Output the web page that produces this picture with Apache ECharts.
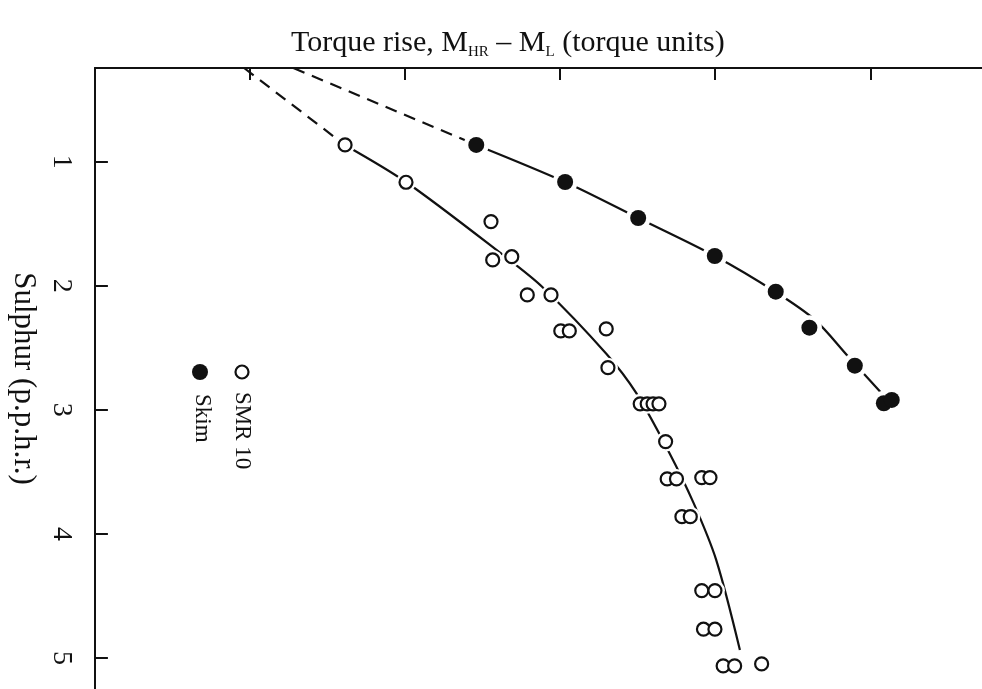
<!DOCTYPE html>
<html><head><meta charset="utf-8">
<script src="https://cdn.jsdelivr.net/npm/echarts@6/dist/echarts.min.js"></script>
<style>html,body{margin:0;padding:0;background:#fff}#c{width:982px;height:689px}</style>
</head><body><div id="c"></div><script>
const FONT = "'Liberation Serif', 'Times New Roman', serif";
// tick values
const xTicks = [1, 2, 3, 4, 5];
const yTicks = [1, 2, 3, 4, 5];
// SMR 10 (open circles): torque rise, sulphur
const smrX = [1.613, 2.006, 2.554, 2.565, 2.688, 2.788, 2.941, 3.004, 3.059, 3.297, 3.308, 3.516, 3.561, 3.599, 3.637, 3.680, 3.690, 3.750, 3.913, 3.966, 3.785, 3.839, 3.913, 3.998, 3.924, 3.998, 4.051, 4.125, 4.299];
const smrY = [0.865, 1.166, 1.483, 1.792, 1.766, 2.074, 2.074, 2.364, 2.364, 2.348, 2.660, 2.952, 2.952, 2.952, 2.952, 3.256, 3.557, 3.557, 3.546, 3.546, 3.861, 3.861, 4.457, 4.457, 4.768, 4.768, 5.064, 5.064, 5.048];
// Skim (filled circles)
const skimX = [2.459, 3.032, 3.503, 3.997, 4.390, 4.607, 4.900, 5.087, 5.138];
const skimY = [0.865, 1.164, 1.454, 1.760, 2.048, 2.338, 2.644, 2.947, 2.920];
// fitted curves
const smrCurveX = [1.611, 2.006, 2.631, 2.885, 3.299, 3.490, 3.701, 3.860, 4.006, 4.159];
const smrCurveY = [0.865, 1.164, 1.752, 2.010, 2.550, 2.864, 3.339, 3.750, 4.209, 4.935];
const smrDashX = [0.962, 1.611];
const smrDashY = [0.245, 0.865];
const skimCurveX = [2.459, 3.032, 3.503, 3.997, 4.389, 4.643, 4.860, 5.083];
const skimCurveY = [0.865, 1.164, 1.454, 1.760, 2.050, 2.275, 2.574, 2.880];
const skimDashX = [1.280, 2.459];
const skimDashY = [0.245, 0.865];

const zip = (a, b) => a.map((v, i) => [v, b[i]]);
const chart = echarts.init(document.getElementById('c'));
const lineBase = { type: 'line', showSymbol: false, symbol: 'none', silent: true, z: 1 };
chart.setOption({
  backgroundColor: '#fff',
  animation: false,
  title: {
    text: 'Torque rise, M{s|HR} – M{s|L} (torque units)',
    left: 286, top: 22,
    textStyle: {
      fontFamily: FONT, fontSize: 30, fontWeight: 'normal', color: '#111',
      rich: { s: { fontFamily: FONT, fontSize: 15, color: '#111', verticalAlign: 'bottom', padding: [18, 0, 0, 0] } }
    }
  },
  grid: { left: 84, top: 68, right: 0, bottom: 0 },
  xAxis: {
    type: 'value', position: 'top', min: 0, max: 5.72,
    axisLine: { show: true, lineStyle: { color: '#111', width: 2 } },
    axisTick: { show: true, inside: true, length: 12, customValues: xTicks, lineStyle: { color: '#111', width: 2 } },
    axisLabel: { show: false },
    splitLine: { show: false }
  },
  yAxis: {
    type: 'value', inverse: true, min: 0.245, max: 5.25,
    name: 'Sulphur (p.p.h.r.)', nameLocation: 'middle', nameRotate: -90, nameGap: 48,
    nameTextStyle: { fontFamily: FONT, fontSize: 31, color: '#111' },
    axisLine: { show: true, lineStyle: { color: '#111', width: 2 } },
    axisTick: { show: true, inside: true, length: 13, customValues: yTicks, lineStyle: { color: '#111', width: 2 } },
    axisLabel: { show: true, customValues: yTicks, rotate: -90, margin: 20, fontFamily: FONT, fontSize: 28, color: '#111' },
    splitLine: { show: false }
  },
  series: [
    Object.assign({}, lineBase, { data: zip(smrDashX, smrDashY), lineStyle: { color: '#111', width: 2.2, type: [12, 8] } }),
    Object.assign({}, lineBase, { data: zip(smrCurveX, smrCurveY), smooth: 0.3, lineStyle: { color: '#111', width: 2.2 } }),
    Object.assign({}, lineBase, { data: zip(skimDashX, skimDashY), lineStyle: { color: '#111', width: 2.2, type: [12, 8] } }),
    Object.assign({}, lineBase, { data: zip(skimCurveX, skimCurveY), smooth: 0.3, lineStyle: { color: '#111', width: 2.2 } }),
    { type: 'scatter', silent: true, z: 2, data: zip(skimX, skimY), symbol: 'circle', symbolSize: 25, itemStyle: { color: '#fff', opacity: 1 } },
    { type: 'scatter', silent: true, z: 2, data: zip(smrX, smrY), symbol: 'circle', symbolSize: 20, itemStyle: { color: '#fff', opacity: 1 } },
    { type: 'scatter', name: 'SMR 10', silent: true, z: 3, data: zip(smrX, smrY), symbol: 'circle', symbolSize: 13,
      itemStyle: { color: '#fff', borderColor: '#111', borderWidth: 2.2, opacity: 1 } },
    { type: 'scatter', name: 'Skim', silent: true, z: 3, data: zip(skimX, skimY), symbol: 'circle', symbolSize: 16,
      itemStyle: { color: '#111', opacity: 1 } }
  ],
  graphic: [
    { type: 'circle', shape: { cx: 242, cy: 372, r: 6.5 }, style: { fill: '#fff', stroke: '#111', lineWidth: 2.2 } },
    { type: 'circle', shape: { cx: 200, cy: 372, r: 8 }, style: { fill: '#111' } },
    { type: 'text', x: 242, y: 392, rotation: -Math.PI / 2,
      style: { text: 'SMR 10', x: 0, y: 0, fill: '#111', font: '23px ' + FONT, align: 'left', verticalAlign: 'middle' } },
    { type: 'text', x: 202, y: 394, rotation: -Math.PI / 2,
      style: { text: 'Skim', x: 0, y: 0, fill: '#111', font: '23px ' + FONT, align: 'left', verticalAlign: 'middle' } }
  ]
});
</script></body></html>
